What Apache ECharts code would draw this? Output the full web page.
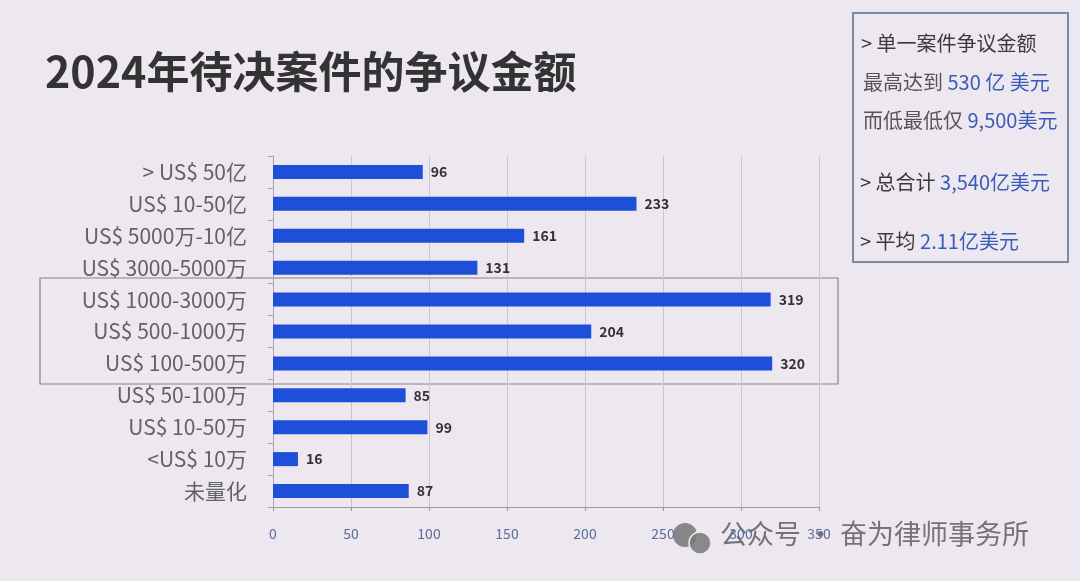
<!DOCTYPE html>
<html><head><meta charset="utf-8">
<script src="https://cdn.jsdelivr.net/npm/echarts@6/dist/echarts.min.js"></script>
<style>html,body{margin:0;padding:0;background:#ede7ef;}#c{width:1080px;height:581px;}</style>
</head><body><div id="c"></div>
<script>
const categories = ['> US$ 50亿','US$ 10-50亿','US$ 5000万-10亿','US$ 3000-5000万','US$ 1000-3000万','US$ 500-1000万','US$ 100-500万','US$ 50-100万','US$ 10-50万','<US$ 10万','未量化'];
const values = [96,233,161,131,319,204,320,85,99,16,87];
const xTicks = [0,50,100,150,200,250,300,350];
const titleText = '2024年待决案件的争议金额';

const chart = echarts.init(document.getElementById('c'));
const F = '"Noto Sans CJK SC","Noto Sans",sans-serif';
chart.setOption({
  backgroundColor: '#ede7ef',
  animation: false,
  grid: {left: 273, right: 261, top: 156, bottom: 74},
  xAxis: {
    type: 'value', min: xTicks[0], max: xTicks[xTicks.length-1], interval: 50,
    axisLine: {show: true, lineStyle: {color: '#9a9aa6'}},
    axisTick: {show: true, length: 4, lineStyle: {color: '#9a9aa6'}},
    splitLine: {show: true, lineStyle: {color: '#c9c6d0', width: 1}},
    axisLabel: {color: '#5a6e9a', fontSize: 14, fontFamily: F, margin: 20}
  },
  yAxis: {
    type: 'category', data: categories, inverse: true,
    axisLine: {show: true, lineStyle: {color: '#a8a8b2'}},
    axisTick: {show: true, length: 5, lineStyle: {color: '#a8a8b2'}},
    axisLabel: {color: '#626262', fontSize: 21, fontFamily: F, margin: 26}
  },
  series: [{
    type: 'bar', data: values, barWidth: 14,
    itemStyle: {color: '#1d4fd9'},
    label: {show: true, position: 'right', distance: 8, color: '#333', fontSize: 14, fontWeight: 'bold', fontFamily: F}
  }],
  graphic: [
    {type: 'text', left: 45, top: 50, style: {text: titleText, font: 'bold 43px ' + F, fill: '#333'}},
    {type: 'rect', shape: {x: 40, y: 278, width: 798, height: 106}, style: {fill: 'none', stroke: '#8d8282', lineWidth: 1.2}},
    {type: 'rect', shape: {x: 853, y: 13, width: 215, height: 249}, style: {fill: 'none', stroke: '#7c8aa2', lineWidth: 2}},
    {type: 'text', left: 861, top: 33, style: {text: '> 单一案件争议金额', font: '20px ' + F, fill: '#3a3a3a'}},
    {type: 'text', left: 863, top: 72, style: {text: '{a|最高达到 }{b|530 亿 美元}', rich: {a: {font: '20px ' + F, fill: '#555'}, b: {font: '20px ' + F, fill: '#3a5cb8'}}}},
    {type: 'text', left: 863, top: 110, style: {text: '{a|而低最低仅 }{b|9,500美元}', rich: {a: {font: '20px ' + F, fill: '#555'}, b: {font: '20px ' + F, fill: '#3a5cb8'}}}},
    {type: 'text', left: 860, top: 172, style: {text: '{a|> 总合计 }{b|3,540亿美元}', rich: {a: {font: '20px ' + F, fill: '#3a3a3a'}, b: {font: '20px ' + F, fill: '#3a5cb8'}}}},
    {type: 'text', left: 860, top: 231, style: {text: '{a|> 平均 }{b|2.11亿美元}', rich: {a: {font: '20px ' + F, fill: '#3a3a3a'}, b: {font: '20px ' + F, fill: '#3a5cb8'}}}},
    {type: 'circle', shape: {cx: 685, cy: 535, r: 12}, style: {fill: 'rgba(110,110,110,0.8)'}},
    {type: 'circle', shape: {cx: 700, cy: 543, r: 11}, style: {fill: 'rgba(120,120,120,0.85)', stroke: '#ede7ef', lineWidth: 1.5}},
    {type: 'text', left: 720, top: 520, style: {text: '公众号 · 奋为律师事务所', font: '27px ' + F, fill: 'rgba(85,85,85,0.8)'}}
  ]
});
</script></body></html>
